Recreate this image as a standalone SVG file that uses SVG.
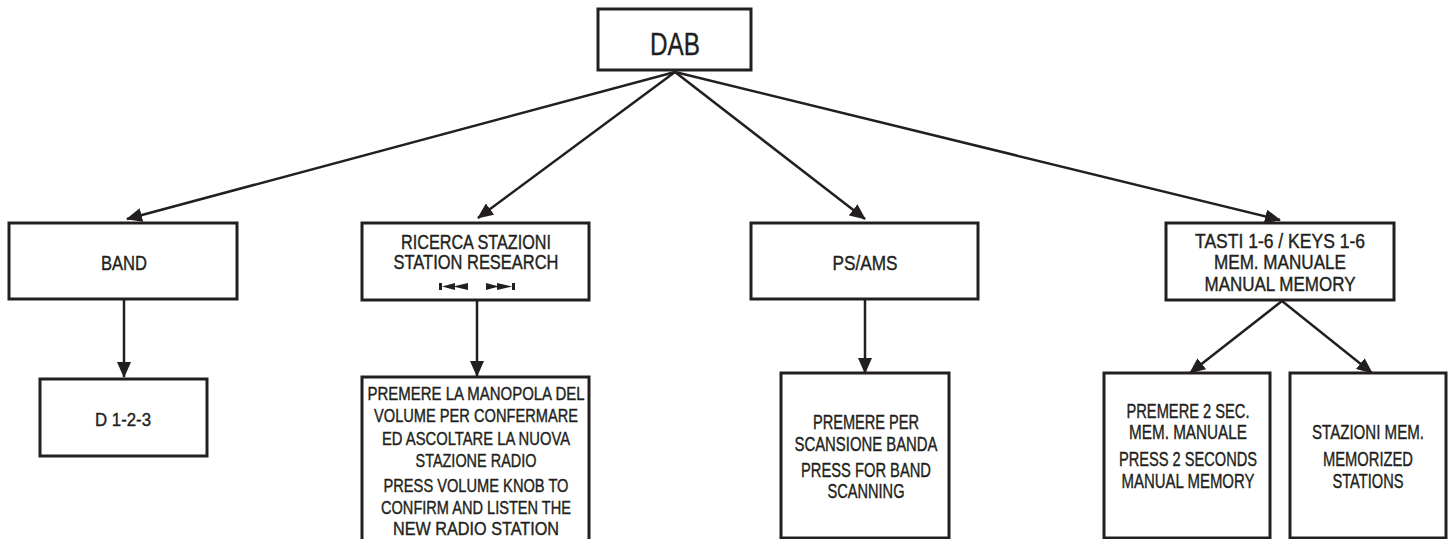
<svg xmlns="http://www.w3.org/2000/svg" width="1449" height="539" viewBox="0 0 1449 539">
<style>
.box{fill:#fff;stroke:#231f20;stroke-width:3}
.t{font-family:"Liberation Sans",Arial,sans-serif;fill:#231f20;stroke:#231f20;stroke-width:0.4;text-anchor:middle;font-size:20px}
.s{font-size:18px}
.c{stroke:#231f20;stroke-width:2.5;fill:none;marker-end:url(#ah)}
</style>
<defs>
<marker id="ah" markerUnits="userSpaceOnUse" markerWidth="16" markerHeight="14" viewBox="0 0 16 14" refX="15" refY="7" orient="auto">
<path d="M0,0 L16,7 L0,14 Z" fill="#231f20"/>
</marker>
</defs>
<g id="connectors">
<line class="c" x1="675" y1="72" x2="127" y2="219"/>
<line class="c" x1="675" y1="72" x2="478" y2="218"/>
<line class="c" x1="675" y1="72" x2="865" y2="219"/>
<line class="c" x1="675" y1="72" x2="1280" y2="220"/>
<line class="c" x1="124" y1="300" x2="124" y2="377"/>
<line class="c" x1="477" y1="300" x2="477" y2="376"/>
<line class="c" x1="865" y1="300" x2="865" y2="373"/>
<line class="c" x1="1282" y1="301" x2="1190" y2="373"/>
<line class="c" x1="1282" y1="301" x2="1372" y2="373"/>
</g>
<g id="dab">
<rect class="box" x="598" y="9" width="153" height="61"/>
<text class="t" x="675" y="55" style="font-size:31px" textLength="50" lengthAdjust="spacingAndGlyphs">DAB</text>
</g>
<g id="band">
<rect class="box" x="9" y="223" width="228" height="76"/>
<text class="t" x="124" y="270" style="font-size:21px" textLength="46" lengthAdjust="spacingAndGlyphs">BAND</text>
</g>
<g id="station-research">
<rect class="box" x="362" y="223" width="227" height="77"/>
<text class="t" x="476" y="249" textLength="150" lengthAdjust="spacingAndGlyphs">RICERCA STAZIONI</text>
<text class="t" x="476" y="269" textLength="165" lengthAdjust="spacingAndGlyphs">STATION RESEARCH</text>
<path d="M439,283 h3 v7 h-3 Z M442,286.5 L455,283 V290 Z M453,286.5 L468,283 V290 Z" fill="#231f20"/>
<path d="M486,283 L499,286.5 L486,290 Z M497,283 L512,286.5 L497,290 Z M512,283 h3 v7 h-3 Z" fill="#231f20"/>
</g>
<g id="ps-ams">
<rect class="box" x="751" y="223" width="227" height="76"/>
<text class="t" x="865" y="270" style="font-size:21px" textLength="65" lengthAdjust="spacingAndGlyphs">PS/AMS</text>
</g>
<g id="tasti">
<rect class="box" x="1166" y="223" width="228" height="77"/>
<text class="t" x="1280" y="248" textLength="170" lengthAdjust="spacingAndGlyphs">TASTI 1-6 / KEYS 1-6</text>
<text class="t" x="1280" y="269" textLength="132" lengthAdjust="spacingAndGlyphs">MEM. MANUALE</text>
<text class="t" x="1280" y="291" textLength="151" lengthAdjust="spacingAndGlyphs">MANUAL MEMORY</text>
</g>
<g id="d123">
<rect class="box" x="40" y="379" width="167" height="77"/>
<text class="t" x="123" y="426" style="font-size:19px" textLength="56" lengthAdjust="spacingAndGlyphs">D 1-2-3</text>
</g>
<g id="station-confirm">
<rect class="box" x="362" y="377" width="227" height="170"/>
<text class="t s" x="476" y="400" textLength="217" lengthAdjust="spacingAndGlyphs">PREMERE LA MANOPOLA DEL</text>
<text class="t s" x="476" y="422" textLength="204" lengthAdjust="spacingAndGlyphs">VOLUME PER CONFERMARE</text>
<text class="t s" x="476" y="445" textLength="188" lengthAdjust="spacingAndGlyphs">ED ASCOLTARE LA NUOVA</text>
<text class="t s" x="476" y="467" textLength="121" lengthAdjust="spacingAndGlyphs">STAZIONE RADIO</text>
<text class="t s" x="476" y="492" textLength="185" lengthAdjust="spacingAndGlyphs">PRESS VOLUME KNOB TO</text>
<text class="t s" x="476" y="514" textLength="190" lengthAdjust="spacingAndGlyphs">CONFIRM AND LISTEN THE</text>
<text class="t s" x="476" y="535" textLength="166" lengthAdjust="spacingAndGlyphs">NEW RADIO STATION</text>
</g>
<g id="ps-scan">
<rect class="box" x="781" y="373" width="168" height="165"/>
<text class="t" x="866" y="429" textLength="106" lengthAdjust="spacingAndGlyphs">PREMERE PER</text>
<text class="t" x="866" y="451" textLength="143" lengthAdjust="spacingAndGlyphs">SCANSIONE BANDA</text>
<text class="t" x="866" y="477" textLength="130" lengthAdjust="spacingAndGlyphs">PRESS FOR BAND</text>
<text class="t" x="866" y="498" textLength="77" lengthAdjust="spacingAndGlyphs">SCANNING</text>
</g>
<g id="mem-manual">
<rect class="box" x="1104" y="373" width="166" height="165"/>
<text class="t" x="1188" y="418" textLength="123" lengthAdjust="spacingAndGlyphs">PREMERE 2 SEC.</text>
<text class="t" x="1188" y="439" textLength="118" lengthAdjust="spacingAndGlyphs">MEM. MANUALE</text>
<text class="t" x="1188" y="466" textLength="138" lengthAdjust="spacingAndGlyphs">PRESS 2 SECONDS</text>
<text class="t" x="1188" y="488" textLength="133" lengthAdjust="spacingAndGlyphs">MANUAL MEMORY</text>
</g>
<g id="mem-stations">
<rect class="box" x="1290" y="373" width="156" height="165"/>
<text class="t" x="1368" y="439" textLength="112" lengthAdjust="spacingAndGlyphs">STAZIONI MEM.</text>
<text class="t" x="1368" y="466" textLength="90" lengthAdjust="spacingAndGlyphs">MEMORIZED</text>
<text class="t" x="1368" y="488" textLength="71" lengthAdjust="spacingAndGlyphs">STATIONS</text>
</g>
</svg>
